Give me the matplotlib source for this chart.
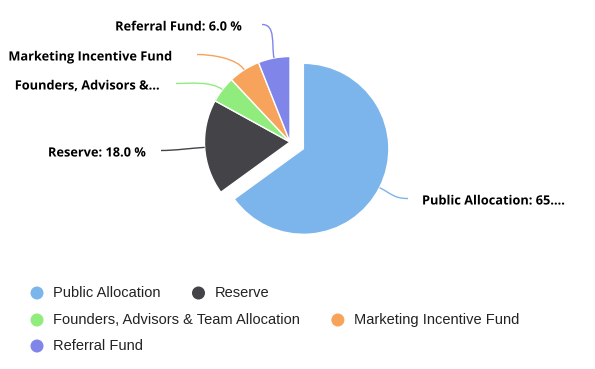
import numpy as np
import matplotlib.pyplot as plt
import matplotlib.patheffects as pe
from matplotlib.path import Path
from matplotlib.patches import PathPatch

names = ["Public Allocation", "Reserve", "Founders, Advisors & Team Allocation",
         "Marketing Incentive Fund", "Referral Fund"]
shares = [65.0, 18.0, 5.0, 6.0, 6.0]
colors = ["#7cb5ec", "#434348", "#90ed7d", "#f7a35c", "#8085e9"]
# data labels as the chart shows them (some are cut short)
shown = ["Public Allocation: 65.…", "Reserve: 18.0 %", "Founders, Advisors &…",
         "Marketing Incentive Fund", "Referral Fund: 6.0 %"]

W, H = 595, 369
fig = plt.figure(figsize=(W / 100, H / 100), dpi=100)
ax = fig.add_axes([0, 0, 1, 1])

cx, cy, r = 290, 142, 85.5
# explode is in data units here (pixels)
wedges, _ = ax.pie(shares, colors=colors, center=(cx, cy), radius=r,
                   startangle=-90, counterclock=True,
                   explode=[15, 0, 0, 0, 0], frame=True,
                   wedgeprops=dict(edgecolor="white", linewidth=1))
ax.set_xlim(0, W)
ax.set_ylim(H, 0)
ax.set_aspect("equal")
ax.axis("off")

# label layout (pixels): text anchor x, text y, connector end x
lab_x = [422, 146, 160, 172, 242]
lab_y = [201, 153, 86, 57, 27]
end_x = [408, 161, 176, 197, 262]

outline = [pe.withStroke(linewidth=2, foreground="white")]
for w, txt, lx, ly, ex, c in zip(wedges, shown, lab_x, lab_y, end_x, colors):
    mid = np.deg2rad((w.theta1 + w.theta2) / 2)
    wx, wy = w.center
    d = np.array([np.cos(mid), np.sin(mid)])
    p0 = np.array([wx, wy]) + d * w.r
    p3 = np.array([ex, ly - 2.5])
    side = 1 if lx > cx else -1
    p1 = p0 + d * 14
    p2 = p3 - np.array([side * 14, 0])
    path = Path([p0, p1, p2, p3], [Path.MOVETO, Path.CURVE4, Path.CURVE4, Path.CURVE4])
    ax.add_patch(PathPatch(path, fill=False, edgecolor=c, linewidth=1))
    ax.text(lx, ly, txt, ha="left" if side > 0 else "right", va="center",
            fontsize=9.2, fontweight="bold", family="Open Sans", color="black",
            path_effects=outline)

# legend, laid out in rows like the original
rows = [[0, 1], [2, 3], [4]]
row_y = [293, 320, 346]
fig.canvas.draw()
rend = fig.canvas.get_renderer()
for row, y in zip(rows, row_y):
    x = 37
    for i in row:
        ax.scatter([x], [y], s=88, color=colors[i], edgecolor="none")
        t = ax.text(x + 16, y, names[i], ha="left", va="center", fontsize=10.5,
                    family="Liberation Sans", color="#222222")
        bb = t.get_window_extent(rend)
        x = bb.x1 + 38

fig.savefig("out.png", dpi=100)
